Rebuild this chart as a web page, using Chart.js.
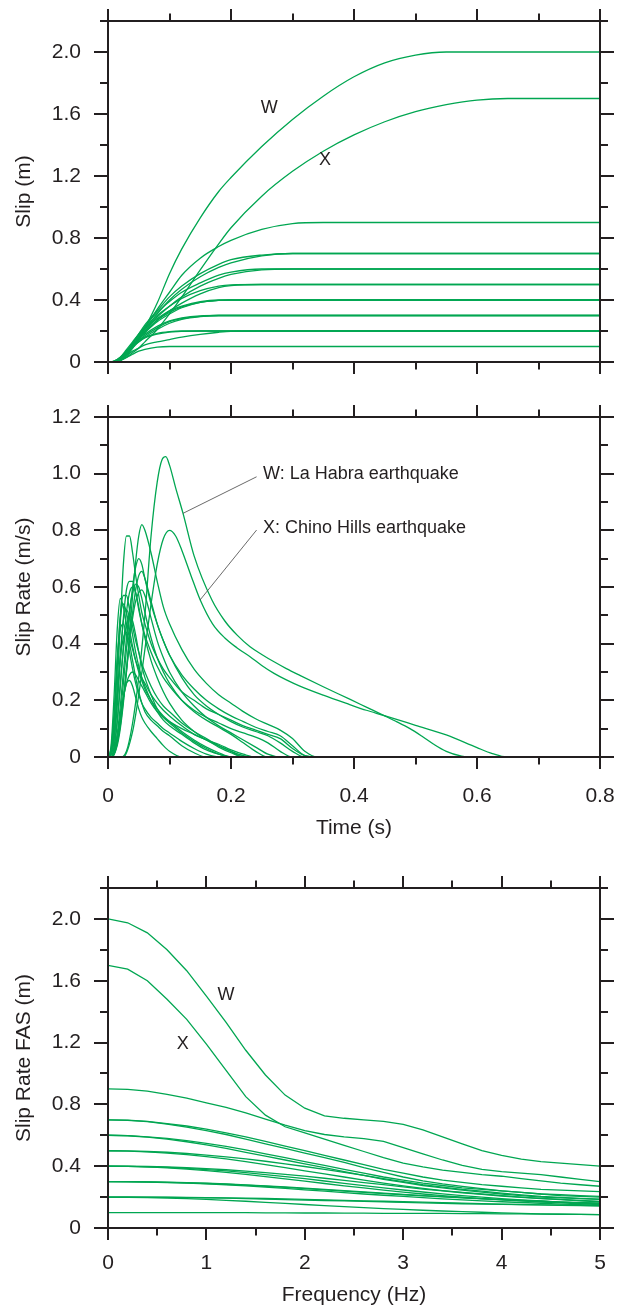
<!DOCTYPE html>
<html>
<head>
<meta charset="utf-8">
<script src="https://cdn.jsdelivr.net/npm/chart.js@4/dist/chart.umd.min.js"></script>
<style>
  body { margin: 0; background: #fff; }
  .panel { position: absolute; left: 0; width: 622px; }
</style>
</head>
<body>
<div class="panel" style="top:0;height:400px"><canvas id="slipChart"></canvas></div>
<div class="panel" style="top:400px;height:460px"><canvas id="rateChart"></canvas></div>
<div class="panel" style="top:860px;height:449px"><canvas id="fasChart"></canvas></div>
<script>
// ---- tick values ----
const timeTicks = [0, 0.2, 0.4, 0.6, 0.8];
const timeMinor = [0.1, 0.3, 0.5, 0.7];
const slipTicks = [0, 0.4, 0.8, 1.2, 1.6, 2.0];
const slipMinor = [0.2, 0.6, 1.0, 1.4, 1.8, 2.2];
const rateTicks = [0, 0.2, 0.4, 0.6, 0.8, 1.0, 1.2];
const rateMinor = [0.1, 0.3, 0.5, 0.7, 0.9, 1.1];
const freqTicks = [0, 1, 2, 3, 4, 5];
const freqMinor = [0.5, 1.5, 2.5, 3.5, 4.5];

// ---- slip (m) vs time (s) ----
const slipTime = [0, 0.01, 0.02, 0.03, 0.04, 0.05, 0.06, 0.08, 0.1, 0.12, 0.15, 0.18, 0.2, 0.25, 0.3, 0.35, 0.4, 0.45, 0.5, 0.55, 0.6, 0.65, 0.7, 0.8];
const slipW = [0, 0, 0.01, 0.04, 0.09, 0.15, 0.22, 0.38, 0.57, 0.73, 0.93, 1.10, 1.19, 1.39, 1.565, 1.715, 1.84, 1.93, 1.98, 2.0, 2.0, 2.0, 2.0, 2.0];
const slipX = [0, 0, 0.01, 0.03, 0.06, 0.09, 0.13, 0.21, 0.31, 0.42, 0.594, 0.762, 0.866, 1.07, 1.23, 1.36, 1.465, 1.55, 1.615, 1.66, 1.69, 1.70, 1.70, 1.70];
const slipOthers = [
  [0, 0, 0.01, 0.05, 0.10, 0.16, 0.22, 0.34, 0.45, 0.56, 0.67, 0.745, 0.785, 0.855, 0.893, 0.9, 0.9, 0.9, 0.9, 0.9, 0.9, 0.9, 0.9, 0.9],
  [0, 0, 0.01, 0.05, 0.10, 0.16, 0.21, 0.31, 0.40, 0.47, 0.55, 0.61, 0.64, 0.685, 0.70, 0.7, 0.7, 0.7, 0.7, 0.7, 0.7, 0.7, 0.7, 0.7],
  [0, 0, 0.015, 0.06, 0.12, 0.18, 0.24, 0.33, 0.42, 0.49, 0.57, 0.63, 0.66, 0.69, 0.70, 0.7, 0.7, 0.7, 0.7, 0.7, 0.7, 0.7, 0.7, 0.7],
  [0, 0, 0.01, 0.05, 0.10, 0.15, 0.20, 0.29, 0.36, 0.42, 0.49, 0.54, 0.565, 0.595, 0.6, 0.6, 0.6, 0.6, 0.6, 0.6, 0.6, 0.6, 0.6, 0.6],
  [0, 0, 0.015, 0.06, 0.12, 0.18, 0.23, 0.32, 0.39, 0.45, 0.51, 0.56, 0.58, 0.6, 0.6, 0.6, 0.6, 0.6, 0.6, 0.6, 0.6, 0.6, 0.6, 0.6],
  [0, 0, 0.01, 0.05, 0.10, 0.15, 0.19, 0.27, 0.33, 0.38, 0.44, 0.48, 0.493, 0.5, 0.5, 0.5, 0.5, 0.5, 0.5, 0.5, 0.5, 0.5, 0.5, 0.5],
  [0, 0, 0.02, 0.07, 0.12, 0.17, 0.22, 0.30, 0.36, 0.41, 0.46, 0.49, 0.498, 0.5, 0.5, 0.5, 0.5, 0.5, 0.5, 0.5, 0.5, 0.5, 0.5, 0.5],
  [0, 0, 0.01, 0.05, 0.10, 0.15, 0.19, 0.26, 0.31, 0.35, 0.385, 0.398, 0.4, 0.4, 0.4, 0.4, 0.4, 0.4, 0.4, 0.4, 0.4, 0.4, 0.4, 0.4],
  [0, 0.005, 0.03, 0.08, 0.13, 0.18, 0.22, 0.28, 0.33, 0.36, 0.39, 0.4, 0.4, 0.4, 0.4, 0.4, 0.4, 0.4, 0.4, 0.4, 0.4, 0.4, 0.4, 0.4],
  [0, 0, 0.02, 0.06, 0.11, 0.16, 0.20, 0.27, 0.32, 0.355, 0.385, 0.397, 0.4, 0.4, 0.4, 0.4, 0.4, 0.4, 0.4, 0.4, 0.4, 0.4, 0.4, 0.4],
  [0, 0, 0.02, 0.06, 0.10, 0.14, 0.17, 0.22, 0.26, 0.28, 0.295, 0.3, 0.3, 0.3, 0.3, 0.3, 0.3, 0.3, 0.3, 0.3, 0.3, 0.3, 0.3, 0.3],
  [0, 0.005, 0.03, 0.07, 0.11, 0.15, 0.18, 0.23, 0.265, 0.285, 0.298, 0.3, 0.3, 0.3, 0.3, 0.3, 0.3, 0.3, 0.3, 0.3, 0.3, 0.3, 0.3, 0.3],
  [0, 0, 0.015, 0.05, 0.09, 0.13, 0.16, 0.21, 0.25, 0.275, 0.293, 0.3, 0.3, 0.3, 0.3, 0.3, 0.3, 0.3, 0.3, 0.3, 0.3, 0.3, 0.3, 0.3],
  [0, 0, 0.02, 0.06, 0.10, 0.13, 0.155, 0.18, 0.193, 0.198, 0.2, 0.2, 0.2, 0.2, 0.2, 0.2, 0.2, 0.2, 0.2, 0.2, 0.2, 0.2, 0.2, 0.2],
  [0, 0.005, 0.03, 0.07, 0.11, 0.14, 0.16, 0.185, 0.196, 0.2, 0.2, 0.2, 0.2, 0.2, 0.2, 0.2, 0.2, 0.2, 0.2, 0.2, 0.2, 0.2, 0.2, 0.2],
  [0, 0, 0.01, 0.04, 0.07, 0.09, 0.11, 0.13, 0.145, 0.16, 0.178, 0.192, 0.198, 0.2, 0.2, 0.2, 0.2, 0.2, 0.2, 0.2, 0.2, 0.2, 0.2, 0.2],
  [0, 0, 0.01, 0.03, 0.05, 0.07, 0.082, 0.096, 0.1, 0.1, 0.1, 0.1, 0.1, 0.1, 0.1, 0.1, 0.1, 0.1, 0.1, 0.1, 0.1, 0.1, 0.1, 0.1]
];

// ---- slip rate (m/s) vs time (s) ----
const rateTimeW = [0, 0.02, 0.03, 0.04, 0.05, 0.06, 0.07, 0.08, 0.088, 0.094, 0.1, 0.11, 0.122, 0.14, 0.169, 0.19, 0.21, 0.231, 0.25, 0.27, 0.29, 0.312, 0.35, 0.393, 0.42, 0.448, 0.47, 0.491, 0.51, 0.529, 0.55, 0.575, 0.59, 0.8];
const rateW = [0, 0, 0.02, 0.12, 0.28, 0.50, 0.78, 0.97, 1.05, 1.06, 1.03, 0.95, 0.86, 0.71, 0.554, 0.48, 0.43, 0.389, 0.362, 0.336, 0.312, 0.288, 0.248, 0.204, 0.176, 0.147, 0.124, 0.10, 0.074, 0.046, 0.02, 0.003, 0, 0];
const rateTimeX = [0, 0.025, 0.04, 0.05, 0.06, 0.07, 0.08, 0.09, 0.1, 0.11, 0.12, 0.135, 0.15, 0.17, 0.19, 0.21, 0.231, 0.25, 0.27, 0.29, 0.312, 0.35, 0.393, 0.42, 0.448, 0.5, 0.55, 0.6, 0.625, 0.648, 0.8];
const rateX = [0, 0, 0.09, 0.22, 0.38, 0.54, 0.68, 0.77, 0.80, 0.78, 0.73, 0.64, 0.554, 0.47, 0.42, 0.385, 0.354, 0.323, 0.295, 0.272, 0.25, 0.218, 0.185, 0.165, 0.147, 0.112, 0.078, 0.033, 0.012, 0, 0];
const rateTime = [0, 0.005, 0.01, 0.015, 0.02, 0.025, 0.03, 0.035, 0.04, 0.045, 0.05, 0.055, 0.06, 0.07, 0.08, 0.09, 0.1, 0.12, 0.14, 0.16, 0.18, 0.2, 0.22, 0.24, 0.26, 0.28, 0.3, 0.32, 0.34, 0.8];
const rateOthers = [
  [0, 0, 0.01, 0.04, 0.10, 0.19, 0.30, 0.43, 0.57, 0.69, 0.78, 0.82, 0.80, 0.72, 0.62, 0.53, 0.47, 0.38, 0.31, 0.26, 0.22, 0.19, 0.16, 0.135, 0.115, 0.095, 0.065, 0.02, 0, 0],
  [0, 0.01, 0.08, 0.25, 0.47, 0.68, 0.78, 0.78, 0.72, 0.64, 0.57, 0.51, 0.47, 0.40, 0.35, 0.31, 0.28, 0.23, 0.20, 0.17, 0.15, 0.13, 0.11, 0.095, 0.08, 0.065, 0.03, 0.005, 0, 0],
  [0, 0, 0.02, 0.07, 0.15, 0.26, 0.38, 0.50, 0.60, 0.67, 0.70, 0.68, 0.63, 0.54, 0.47, 0.41, 0.36, 0.29, 0.24, 0.20, 0.17, 0.145, 0.125, 0.105, 0.09, 0.075, 0.04, 0.005, 0, 0],
  [0, 0, 0.01, 0.05, 0.11, 0.20, 0.30, 0.41, 0.51, 0.59, 0.64, 0.655, 0.63, 0.55, 0.47, 0.41, 0.36, 0.28, 0.22, 0.18, 0.15, 0.125, 0.105, 0.09, 0.075, 0.05, 0.02, 0, 0, 0],
  [0, 0.01, 0.06, 0.18, 0.34, 0.49, 0.59, 0.62, 0.62, 0.58, 0.52, 0.47, 0.43, 0.37, 0.32, 0.28, 0.25, 0.20, 0.165, 0.14, 0.12, 0.10, 0.085, 0.07, 0.05, 0.02, 0, 0, 0, 0],
  [0, 0, 0.02, 0.08, 0.18, 0.30, 0.42, 0.52, 0.58, 0.61, 0.60, 0.56, 0.51, 0.42, 0.35, 0.30, 0.26, 0.20, 0.16, 0.13, 0.105, 0.08, 0.05, 0.02, 0, 0, 0, 0, 0, 0],
  [0, 0, 0.01, 0.05, 0.12, 0.21, 0.31, 0.41, 0.49, 0.55, 0.58, 0.59, 0.57, 0.49, 0.41, 0.35, 0.30, 0.23, 0.18, 0.14, 0.11, 0.085, 0.06, 0.035, 0.01, 0, 0, 0, 0, 0],
  [0, 0.02, 0.12, 0.32, 0.50, 0.57, 0.57, 0.52, 0.46, 0.41, 0.37, 0.33, 0.30, 0.25, 0.21, 0.18, 0.16, 0.12, 0.09, 0.065, 0.04, 0.02, 0, 0, 0, 0, 0, 0, 0, 0],
  [0, 0.04, 0.22, 0.45, 0.56, 0.53, 0.47, 0.42, 0.38, 0.34, 0.31, 0.28, 0.26, 0.22, 0.19, 0.165, 0.145, 0.11, 0.08, 0.06, 0.035, 0.015, 0, 0, 0, 0, 0, 0, 0, 0],
  [0, 0, 0.03, 0.12, 0.25, 0.39, 0.51, 0.58, 0.60, 0.58, 0.53, 0.47, 0.42, 0.34, 0.28, 0.23, 0.19, 0.13, 0.09, 0.06, 0.04, 0.02, 0.005, 0, 0, 0, 0, 0, 0, 0],
  [0, 0.02, 0.13, 0.33, 0.49, 0.54, 0.51, 0.45, 0.39, 0.34, 0.30, 0.27, 0.24, 0.20, 0.17, 0.145, 0.125, 0.09, 0.06, 0.035, 0.015, 0, 0, 0, 0, 0, 0, 0, 0, 0],
  [0, 0.01, 0.07, 0.20, 0.36, 0.48, 0.52, 0.49, 0.43, 0.37, 0.32, 0.28, 0.25, 0.20, 0.16, 0.13, 0.11, 0.08, 0.05, 0.025, 0.01, 0, 0, 0, 0, 0, 0, 0, 0, 0],
  [0, 0, 0.04, 0.13, 0.26, 0.38, 0.46, 0.50, 0.48, 0.43, 0.37, 0.32, 0.28, 0.22, 0.17, 0.14, 0.12, 0.085, 0.055, 0.03, 0.01, 0, 0, 0, 0, 0, 0, 0, 0, 0],
  [0, 0.03, 0.16, 0.35, 0.45, 0.47, 0.43, 0.37, 0.31, 0.26, 0.22, 0.19, 0.17, 0.14, 0.12, 0.10, 0.085, 0.055, 0.03, 0.01, 0, 0, 0, 0, 0, 0, 0, 0, 0, 0],
  [0, 0.01, 0.08, 0.22, 0.35, 0.42, 0.44, 0.40, 0.34, 0.28, 0.23, 0.19, 0.16, 0.13, 0.11, 0.09, 0.075, 0.04, 0.015, 0, 0, 0, 0, 0, 0, 0, 0, 0, 0, 0],
  [0, 0, 0.02, 0.07, 0.14, 0.21, 0.26, 0.29, 0.30, 0.29, 0.27, 0.25, 0.23, 0.19, 0.16, 0.14, 0.125, 0.10, 0.08, 0.06, 0.045, 0.025, 0.01, 0, 0, 0, 0, 0, 0, 0],
  [0, 0, 0.02, 0.07, 0.14, 0.21, 0.26, 0.27, 0.25, 0.21, 0.17, 0.14, 0.12, 0.09, 0.065, 0.04, 0.02, 0, 0, 0, 0, 0, 0, 0, 0, 0, 0, 0, 0, 0]
];

// ---- slip rate FAS (m) vs frequency (Hz) ----
const freq = [0, 0.2, 0.4, 0.6, 0.8, 1.0, 1.2, 1.4, 1.6, 1.8, 2.0, 2.2, 2.4, 2.6, 2.8, 3.0, 3.2, 3.4, 3.6, 3.8, 4.0, 4.2, 4.4, 4.6, 4.8, 5.0];
const fasW = [2.0, 1.975, 1.91, 1.80, 1.665, 1.50, 1.33, 1.15, 0.99, 0.86, 0.775, 0.725, 0.71, 0.70, 0.69, 0.67, 0.635, 0.59, 0.545, 0.50, 0.47, 0.445, 0.43, 0.42, 0.41, 0.40];
const fasX = [1.70, 1.675, 1.60, 1.48, 1.35, 1.19, 1.02, 0.85, 0.73, 0.655, 0.615, 0.575, 0.535, 0.495, 0.455, 0.42, 0.395, 0.375, 0.36, 0.345, 0.335, 0.32, 0.305, 0.29, 0.28, 0.27];
const fasOthers = [
  [0.90, 0.897, 0.885, 0.865, 0.84, 0.81, 0.78, 0.745, 0.705, 0.665, 0.63, 0.605, 0.59, 0.578, 0.56, 0.52, 0.48, 0.44, 0.405, 0.38, 0.365, 0.355, 0.345, 0.33, 0.315, 0.30],
  [0.70, 0.698, 0.69, 0.675, 0.66, 0.64, 0.615, 0.59, 0.56, 0.53, 0.50, 0.47, 0.44, 0.41, 0.38, 0.355, 0.33, 0.31, 0.295, 0.28, 0.27, 0.26, 0.25, 0.245, 0.24, 0.235],
  [0.70, 0.697, 0.688, 0.672, 0.653, 0.63, 0.605, 0.575, 0.545, 0.515, 0.485, 0.455, 0.425, 0.39, 0.36, 0.33, 0.305, 0.285, 0.27, 0.255, 0.24, 0.23, 0.22, 0.21, 0.205, 0.20],
  [0.60, 0.598, 0.59, 0.58, 0.565, 0.548, 0.528, 0.505, 0.48, 0.455, 0.43, 0.405, 0.38, 0.355, 0.33, 0.31, 0.29, 0.275, 0.26, 0.25, 0.24, 0.23, 0.22, 0.215, 0.21, 0.205],
  [0.60, 0.597, 0.588, 0.575, 0.558, 0.538, 0.515, 0.49, 0.465, 0.44, 0.415, 0.39, 0.365, 0.34, 0.315, 0.295, 0.275, 0.26, 0.245, 0.232, 0.22, 0.21, 0.2, 0.195, 0.19, 0.185],
  [0.50, 0.499, 0.495, 0.49, 0.482, 0.472, 0.46, 0.447, 0.432, 0.415, 0.398, 0.38, 0.36, 0.34, 0.32, 0.30, 0.28, 0.265, 0.25, 0.238, 0.226, 0.215, 0.205, 0.198, 0.192, 0.186],
  [0.50, 0.498, 0.493, 0.485, 0.475, 0.462, 0.447, 0.43, 0.41, 0.39, 0.37, 0.35, 0.33, 0.31, 0.29, 0.272, 0.256, 0.242, 0.23, 0.22, 0.21, 0.2, 0.192, 0.185, 0.178, 0.172],
  [0.40, 0.40, 0.398, 0.395, 0.39, 0.384, 0.377, 0.368, 0.358, 0.347, 0.335, 0.322, 0.308, 0.294, 0.28, 0.266, 0.252, 0.24, 0.228, 0.217, 0.207, 0.198, 0.19, 0.183, 0.176, 0.17],
  [0.40, 0.399, 0.396, 0.392, 0.386, 0.378, 0.369, 0.358, 0.346, 0.333, 0.319, 0.304, 0.289, 0.274, 0.26, 0.246, 0.233, 0.221, 0.21, 0.2, 0.19, 0.182, 0.175, 0.168, 0.162, 0.156],
  [0.40, 0.399, 0.395, 0.389, 0.381, 0.371, 0.36, 0.347, 0.333, 0.318, 0.303, 0.288, 0.273, 0.259, 0.245, 0.232, 0.22, 0.209, 0.199, 0.19, 0.182, 0.175, 0.168, 0.162, 0.157, 0.152],
  [0.30, 0.30, 0.299, 0.297, 0.294, 0.29, 0.285, 0.279, 0.273, 0.266, 0.258, 0.25, 0.242, 0.234, 0.226, 0.218, 0.21, 0.203, 0.196, 0.19, 0.184, 0.178, 0.173, 0.168, 0.164, 0.16],
  [0.30, 0.299, 0.297, 0.294, 0.29, 0.285, 0.279, 0.272, 0.264, 0.256, 0.247, 0.238, 0.229, 0.22, 0.212, 0.204, 0.196, 0.189, 0.182, 0.176, 0.17, 0.165, 0.16, 0.155, 0.151, 0.147],
  [0.30, 0.30, 0.298, 0.295, 0.292, 0.288, 0.283, 0.277, 0.27, 0.263, 0.255, 0.247, 0.239, 0.231, 0.223, 0.215, 0.208, 0.201, 0.195, 0.189, 0.183, 0.178, 0.173, 0.168, 0.164, 0.16],
  [0.20, 0.20, 0.2, 0.199, 0.198, 0.197, 0.195, 0.193, 0.191, 0.188, 0.185, 0.182, 0.179, 0.176, 0.173, 0.17, 0.167, 0.164, 0.161, 0.158, 0.155, 0.152, 0.15, 0.148, 0.146, 0.144],
  [0.20, 0.20, 0.199, 0.198, 0.197, 0.195, 0.193, 0.19, 0.187, 0.184, 0.181, 0.178, 0.175, 0.172, 0.169, 0.166, 0.163, 0.16, 0.157, 0.155, 0.153, 0.151, 0.149, 0.147, 0.145, 0.143],
  [0.20, 0.199, 0.197, 0.194, 0.19, 0.185, 0.179, 0.173, 0.166, 0.159, 0.152, 0.145, 0.138, 0.132, 0.126, 0.12, 0.115, 0.11, 0.106, 0.102, 0.098, 0.095, 0.092, 0.09, 0.088, 0.086],
  [0.10, 0.10, 0.10, 0.10, 0.10, 0.10, 0.099, 0.099, 0.098, 0.098, 0.097, 0.097, 0.096, 0.096, 0.095, 0.095, 0.094, 0.094, 0.093, 0.093, 0.092, 0.091, 0.09, 0.089, 0.088, 0.087]
];

const GREEN = '#00a651';
const INK = '#231f20';
const FONT = 'Liberation Sans, Arial, Helvetica, sans-serif';

function points(xs, ys) {
  return xs.map((x, i) => ({ x: x, y: ys[i] }));
}

function curve(xs, ys, smooth) {
  return {
    data: points(xs, ys),
    borderColor: GREEN,
    borderWidth: 1.3,
    pointRadius: 0,
    showLine: true,
    fill: false,
    cubicInterpolationMode: smooth ? 'monotone' : 'default',
    tension: 0
  };
}

// frame, ticks on all four sides and the W / X notes
const framePlugin = {
  id: 'frame',
  afterDraw(chart, args, opts) {
    const ctx = chart.ctx;
    const a = chart.chartArea;
    const xs = chart.scales.x, ys = chart.scales.y;
    ctx.save();
    ctx.strokeStyle = INK;
    ctx.lineWidth = 2;
    ctx.strokeRect(a.left, a.top, a.right - a.left, a.bottom - a.top);
    ctx.beginPath();
    const tickX = (v, len) => {
      const p = Math.round(xs.getPixelForValue(v));
      ctx.moveTo(p, a.bottom); ctx.lineTo(p, a.bottom + len);
      ctx.moveTo(p, a.top); ctx.lineTo(p, a.top - len);
    };
    const tickY = (v, len) => {
      const p = Math.round(ys.getPixelForValue(v));
      ctx.moveTo(a.left, p); ctx.lineTo(a.left - len, p);
      ctx.moveTo(a.right, p); ctx.lineTo(a.right + len, p);
    };
    opts.xMajor.forEach(v => tickX(v, 12));
    opts.xMinor.forEach(v => tickX(v, 7.5));
    opts.yMajor.forEach(v => tickY(v, 14));
    opts.yMinor.forEach(v => tickY(v, 8));
    ctx.stroke();

    (opts.leaders || []).forEach(l => {
      ctx.beginPath();
      ctx.strokeStyle = '#444';
      ctx.lineWidth = 0.8;
      ctx.moveTo(xs.getPixelForValue(l[0]), ys.getPixelForValue(l[1]));
      ctx.lineTo(xs.getPixelForValue(l[2]), ys.getPixelForValue(l[3]));
      ctx.stroke();
    });

    ctx.fillStyle = INK;
    ctx.font = '18px ' + FONT;
    ctx.textBaseline = 'middle';
    (opts.notes || []).forEach(n => {
      ctx.textAlign = n.align || 'center';
      ctx.fillText(n.text, xs.getPixelForValue(n.x), ys.getPixelForValue(n.y));
    });
    ctx.restore();
  }
};

function fmt(v) {
  return v === 0 ? '0' : v.toFixed(1);
}

function makeChart(id, cfg) {
  const ctx = document.getElementById(id).getContext('2d');
  return new Chart(ctx, {
    type: 'scatter',
    data: { datasets: cfg.datasets },
    options: {
      responsive: true,
      maintainAspectRatio: false,
      animation: false,
      layout: { padding: { left: 0, right: 22, top: cfg.top, bottom: 0 } },
      plugins: {
        legend: { display: false },
        tooltip: { enabled: false },
        frame: cfg.frame
      },
      scales: {
        x: {
          type: 'linear',
          min: cfg.xMin, max: cfg.xMax,
          grid: { display: false, drawTicks: false },
          border: { display: false },
          afterBuildTicks: s => { s.ticks = cfg.frame.xMajor.map(v => ({ value: v })); },
          afterFit: s => {
            s.height = cfg.xHeight;
            s.paddingLeft = 0; s.paddingRight = 0; s.paddingTop = 0; s.paddingBottom = 0;
          },
          ticks: {
            display: cfg.xLabels,
            padding: cfg.xPad,
            color: INK,
            font: { family: FONT, size: 21 },
            maxRotation: 0,
            callback: cfg.xFmt
          },
          title: {
            display: !!cfg.xTitle,
            text: cfg.xTitle || '',
            color: INK,
            font: { family: FONT, size: 21 },
            padding: { top: 0, bottom: cfg.xTitlePad }
          }
        },
        y: {
          type: 'linear',
          min: cfg.yMin, max: cfg.yMax,
          grid: { display: false, drawTicks: false },
          border: { display: false },
          afterBuildTicks: s => { s.ticks = cfg.frame.yMajor.map(v => ({ value: v })); },
          afterFit: s => {
            s.width = 108;
            s.paddingLeft = 0; s.paddingRight = 0; s.paddingTop = 0; s.paddingBottom = 0;
          },
          ticks: {
            padding: 27,
            color: INK,
            font: { family: FONT, size: 21 },
            callback: fmt
          },
          title: {
            display: true,
            text: cfg.yTitle,
            color: INK,
            font: { family: FONT, size: 21 },
            padding: { top: 12, bottom: 0 }
          }
        }
      }
    },
    plugins: [framePlugin]
  });
}

window.onload = function () {
  const slipSets = [curve(slipTime, slipW, true), curve(slipTime, slipX, true)]
    .concat(slipOthers.map(s => curve(slipTime, s, true)));
  makeChart('slipChart', {
    datasets: slipSets,
    top: 21, xHeight: 38, xLabels: false, xPad: 0, xTitlePad: 0,
    xMin: 0, xMax: 0.8, yMin: 0, yMax: 2.2,
    xFmt: fmt, yTitle: 'Slip (m)',
    frame: {
      xMajor: timeTicks, xMinor: timeMinor, yMajor: slipTicks, yMinor: slipMinor,
      notes: [{ text: 'W', x: 0.262, y: 1.64 }, { text: 'X', x: 0.353, y: 1.30 }]
    }
  });

  const rateSets = [curve(rateTimeW, rateW, true), curve(rateTimeX, rateX, true)]
    .concat(rateOthers.map(s => curve(rateTime, s, true)));
  makeChart('rateChart', {
    datasets: rateSets,
    top: 17, xHeight: 103, xLabels: true, xPad: 27, xTitlePad: 19,
    xMin: 0, xMax: 0.8, yMin: 0, yMax: 1.2,
    xFmt: fmt, xTitle: 'Time (s)', yTitle: 'Slip Rate (m/s)',
    frame: {
      xMajor: timeTicks, xMinor: timeMinor, yMajor: rateTicks, yMinor: rateMinor,
      notes: [
        { text: 'W: La Habra earthquake', x: 0.252, y: 0.999, align: 'left' },
        { text: 'X: Chino Hills earthquake', x: 0.252, y: 0.808, align: 'left' }
      ],
      leaders: [[0.2416, 0.989, 0.122, 0.860], [0.2416, 0.801, 0.1496, 0.554]]
    }
  });

  const fasSets = [curve(freq, fasW, false), curve(freq, fasX, false)]
    .concat(fasOthers.map(s => curve(freq, s, false)));
  makeChart('fasChart', {
    datasets: fasSets,
    top: 28, xHeight: 81, xLabels: true, xPad: 23, xTitlePad: 1,
    xMin: 0, xMax: 5, yMin: 0, yMax: 2.2,
    xFmt: v => String(v), xTitle: 'Frequency (Hz)', yTitle: 'Slip Rate FAS (m)',
    frame: {
      xMajor: freqTicks, xMinor: freqMinor, yMajor: slipTicks, yMinor: slipMinor,
      notes: [{ text: 'W', x: 1.2, y: 1.51 }, { text: 'X', x: 0.76, y: 1.19 }]
    }
  });
};
</script>
</body>
</html>
